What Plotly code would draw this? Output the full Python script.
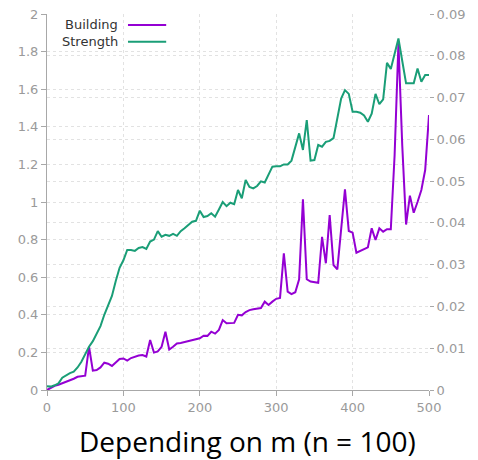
import plotly.graph_objects as go

m_values = list(range(0, 505, 5))

building = [
    0.0, 0.012, 0.022, 0.028, 0.035, 0.042, 0.05, 0.06, 0.07, 0.074,
    0.076, 0.23, 0.103, 0.106, 0.12, 0.145, 0.14, 0.128, 0.145, 0.165,
    0.168, 0.156, 0.17, 0.177, 0.183, 0.186, 0.178, 0.266, 0.199, 0.205,
    0.23, 0.31, 0.215, 0.23, 0.248, 0.25, 0.255, 0.26, 0.265, 0.27,
    0.275, 0.289, 0.288, 0.31, 0.30, 0.32, 0.372, 0.355, 0.356, 0.357,
    0.40, 0.397, 0.415, 0.425, 0.43, 0.433, 0.436, 0.47, 0.452, 0.47,
    0.485, 0.49, 0.727, 0.523, 0.51, 0.52, 0.589, 1.014, 0.589, 0.577,
    0.572, 0.57, 0.815, 0.674, 0.93, 0.665, 0.642, 0.85, 1.067, 0.846,
    0.837, 0.73, 0.739, 0.75, 0.759, 0.86, 0.798, 0.86, 0.842, 0.855,
    0.855, 1.25, 1.844, 1.3, 0.88, 1.034, 0.943, 1.0, 1.064, 1.17,
    1.463,
]

strength = [
    0.0009, 0.00081, 0.00113, 0.00158, 0.00293, 0.0036, 0.00405, 0.00437, 0.0054, 0.00675,
    0.00855, 0.01035, 0.0117, 0.0135, 0.0153, 0.018, 0.02025, 0.0225, 0.0261, 0.02925,
    0.03105, 0.03353, 0.03353, 0.0333, 0.03398, 0.0342, 0.03375, 0.03555, 0.036, 0.03803,
    0.03668, 0.03713, 0.0369, 0.03735, 0.0369, 0.03803, 0.0387, 0.03938, 0.04028, 0.0405,
    0.04293, 0.0414, 0.04163, 0.0423, 0.04149, 0.0432, 0.045, 0.04401, 0.04482, 0.04446,
    0.04788, 0.0459, 0.05027, 0.0486, 0.04824, 0.04883, 0.04995, 0.04968, 0.05175, 0.05346,
    0.05355, 0.05355, 0.054, 0.054, 0.0549, 0.05805, 0.06143, 0.05747, 0.06462, 0.0549,
    0.05504, 0.05864, 0.05823, 0.0594, 0.05963, 0.0603, 0.06525, 0.06975, 0.07178, 0.07088,
    0.0666, 0.0666, 0.06638, 0.0657, 0.06422, 0.06615, 0.07088, 0.0684, 0.06957, 0.0783,
    0.07686, 0.08019, 0.08415, 0.07875, 0.0734, 0.0734, 0.0734, 0.07695, 0.0738, 0.07542,
    0.07542,
]

x_ticks = [0, 100, 200, 300, 400, 500]
left_ticks = [0, 0.2, 0.4, 0.6, 0.8, 1, 1.2, 1.4, 1.6, 1.8, 2]
right_ticks = [0, 0.01, 0.02, 0.03, 0.04, 0.05, 0.06, 0.07, 0.08, 0.09]

PURPLE = "#9400D3"
GREEN = "#1A9E77"
AXIS = "#a8a8a8"
GRID = "#e2e2e2"
TICKFONT = dict(family="DejaVu Sans", size=13, color="#9a9a9a")

fig = go.Figure()
fig.add_trace(go.Scatter(x=m_values, y=building, mode="lines", name="Building",
                         line=dict(color=PURPLE, width=2), yaxis="y"))
fig.add_trace(go.Scatter(x=m_values, y=strength, mode="lines", name="Strength",
                         line=dict(color=GREEN, width=2), yaxis="y2"))

fig.update_layout(
    width=470, height=452,
    margin=dict(l=39, r=49, t=6, b=70),
    paper_bgcolor="white", plot_bgcolor="white",
    showlegend=False,
    xaxis=dict(range=[0, 500], tickvals=x_ticks, ticks="outside", ticklen=5,
               tickcolor=AXIS, showline=True, linecolor=AXIS, linewidth=1,
               showgrid=True, gridcolor=GRID, griddash="dot", gridwidth=1,
               zeroline=False, tickfont=TICKFONT, automargin=False,
               ticklabeloverflow="allow"),
    yaxis=dict(range=[0, 2], tickvals=left_ticks, ticks="outside", ticklen=5,
               tickcolor=AXIS, showline=True, linecolor=AXIS, linewidth=1,
               showgrid=True, gridcolor=GRID, griddash="dot", gridwidth=1,
               zeroline=False, tickfont=TICKFONT, automargin=False,
               ticklabeloverflow="allow"),
    yaxis2=dict(range=[0, 0.09], tickvals=right_ticks, overlaying="y", side="right",
                ticks="outside", ticklen=4, tickcolor=AXIS, showline=False,
                showgrid=True, gridcolor=GRID, griddash="dot", gridwidth=1,
                zeroline=False, tickfont=TICKFONT, automargin=False,
                ticklabeloverflow="allow"),
    annotations=[
        dict(text="Building", xref="paper", yref="paper", x=0.19, y=0.971,
             xanchor="right", yanchor="middle", showarrow=False,
             font=dict(family="DejaVu Sans", size=13, color="#333333")),
        dict(text="Strength", xref="paper", yref="paper", x=0.19, y=0.926,
             xanchor="right", yanchor="middle", showarrow=False,
             font=dict(family="DejaVu Sans", size=13, color="#333333")),
        dict(text="Depending on m (n = 100)", xref="paper", yref="paper",
             x=0.526, y=-0.136, xanchor="center", yanchor="middle", showarrow=False,
             font=dict(family="Open Sans", size=28, color="#000000")),
    ],
    shapes=[
        dict(type="line", xref="paper", yref="paper", x0=0.212, x1=0.312,
             y0=0.971, y1=0.971, line=dict(color=PURPLE, width=2)),
        dict(type="line", xref="paper", yref="paper", x0=0.212, x1=0.312,
             y0=0.926, y1=0.926, line=dict(color=GREEN, width=2)),
    ],
)

fig.write_html("out.html")
